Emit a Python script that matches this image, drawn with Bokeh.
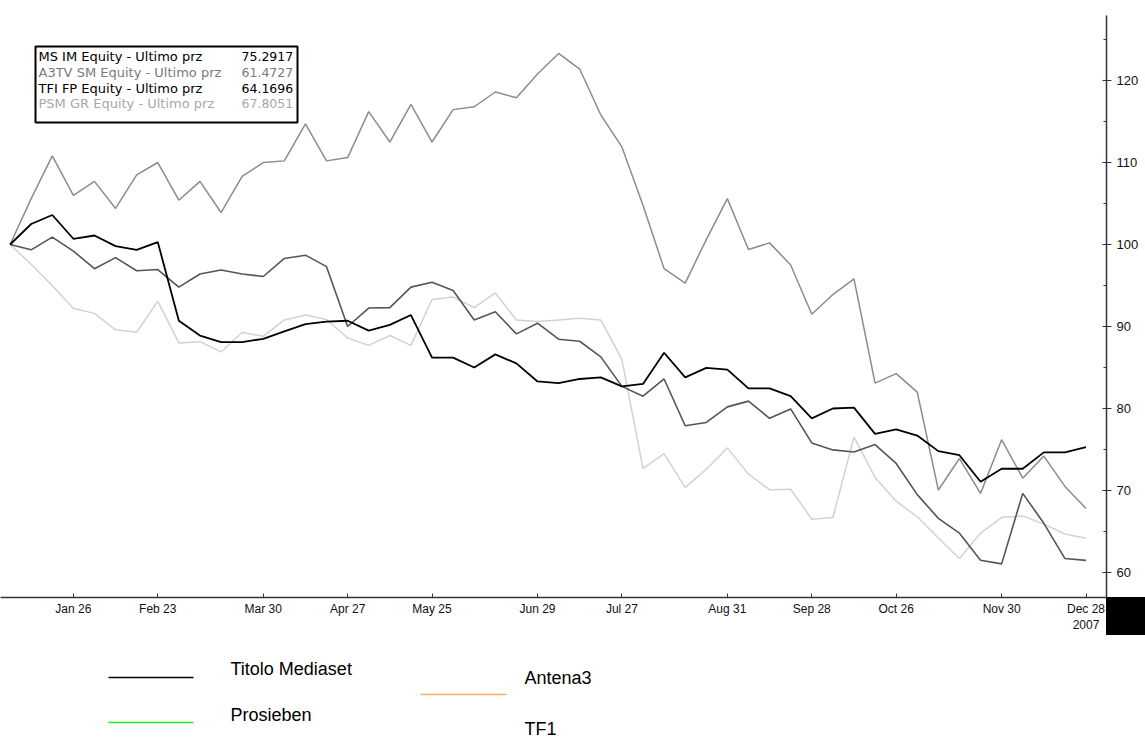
import pandas as pd
from bokeh.plotting import figure
from bokeh.layouts import column
from bokeh.models import Range1d, FixedTicker, BoxAnnotation, Label, InlineStyleSheet
from bokeh.core.properties import value
from bokeh.embed import file_html
from bokeh.resources import INLINE

# ---------------- data (weekly closes, rebased to 100) ----------------
dates = pd.date_range("2007-01-05", periods=52, freq="7D")

mediaset = [100, 102.5, 103.6, 100.7, 101.1, 99.8, 99.35, 100.3, 90.7, 88.9,
            88.1, 88.1, 88.5, 89.4, 90.3, 90.6, 90.7, 89.5, 90.2, 91.4,
            86.2, 86.2, 85.0, 86.6, 85.5, 83.3, 83.1, 83.6, 83.8, 82.7,
            83.0, 86.8, 83.8, 84.95, 84.75, 82.45, 82.45, 81.5, 78.8, 80.0,
            80.1, 76.9, 77.45, 76.7, 74.8, 74.3, 71.06, 72.65, 72.65, 74.65,
            74.65, 75.2917]

prosieben = [100, 105.6, 110.8, 106.0, 107.7, 104.4, 108.5, 110.0, 105.4, 107.7,
             103.9, 108.3, 110.0, 110.2, 114.7, 110.2, 110.6, 116.2, 112.5, 117.1,
             112.5, 116.45, 116.8, 118.6, 117.9, 120.8, 123.3, 121.4, 115.8, 111.9,
             104.8, 97.05, 95.3, 100.6, 105.6, 99.4, 100.2, 97.5, 91.5, 93.9,
             95.8, 83.1, 84.25, 82.0, 70.06, 73.9, 69.65, 76.2, 71.5, 74.2,
             70.5, 67.8051]

antena3 = [100, 99.35, 100.9, 99.2, 97.05, 98.4, 96.8, 96.95, 94.8, 96.4,
           96.9, 96.4, 96.1, 98.3, 98.7, 97.3, 90.0, 92.25, 92.3, 94.8,
           95.4, 94.4, 90.8, 91.8, 89.1, 90.4, 88.45, 88.2, 86.3, 82.7,
           81.5, 83.6, 77.9, 78.3, 80.2, 80.9, 78.8, 79.95, 75.8, 74.95,
           74.7, 75.6, 73.3, 69.5, 66.6, 64.8, 61.5, 61.05, 69.65, 66.0,
           61.7, 61.4727]

tf1 = [100, 97.6, 95.0, 92.2, 91.6, 89.6, 89.3, 93.1, 88.0, 88.15,
       86.9, 89.3, 88.8, 90.8, 91.4, 90.85, 88.6, 87.7, 88.9, 87.7,
       93.3, 93.6, 92.3, 94.1, 90.8, 90.6, 90.8, 91.0, 90.8, 86.0,
       72.7, 74.5, 70.35, 72.6, 75.2, 72.0, 70.1, 70.15, 66.5, 66.7,
       76.5, 71.6, 68.7, 66.8, 64.2, 61.7, 64.8, 66.7, 66.9, 65.9,
       64.7, 64.1696]

tick_dates = ["2007-01-26", "2007-02-23", "2007-03-30", "2007-04-27", "2007-05-25",
              "2007-06-29", "2007-07-27", "2007-08-31", "2007-09-28", "2007-10-26",
              "2007-11-30", "2007-12-28"]
tick_labels = ["Jan 26", "Feb 23", "Mar 30", "Apr 27", "May 25", "Jun 29",
               "Jul 27", "Aug 31", "Sep 28", "Oct 26", "Nov 30", "Dec 28\n2007"]
y_ticks = [60, 70, 80, 90, 100, 110, 120]
y_minor = [55, 65, 75, 85, 95, 105, 115, 125]

box_names = ["MS IM Equity - Ultimo prz", "A3TV SM Equity - Ultimo prz",
             "TFI FP Equity - Ultimo prz", "PSM GR Equity - Ultimo prz"]
box_values = ["75.2917", "61.4727", "64.1696", "67.8051"]
box_colors = ["#000000", "#7a7a7a", "#000000", "#a8a8a8"]

legend_names = ["Titolo Mediaset", "Prosieben", "Antena3", "TF1"]

# ---------------- main chart ----------------
FONT = "Liberation Sans"
BOX_FONT = "DejaVu Sans"

corner_css = InlineStyleSheet(css="""
:host { position: relative; }
:host::after { content: ''; position: absolute; left: 1106px; top: 597px;
               width: 39px; height: 38px; background: #000000; z-index: 10;
               pointer-events: none; }
""")

p = figure(width=1145, height=640, x_axis_type="datetime", y_axis_location="right",
           x_range=Range1d(pd.Timestamp("2007-01-01 19:40"), pd.Timestamp("2008-01-03 19:00")),
           y_range=Range1d(56.95, 127.93),
           toolbar_location=None, output_backend="svg",
           min_border_left=0, min_border_right=39, min_border_top=15, min_border_bottom=43,
           stylesheets=[corner_css])
p.grid.visible = False
p.outline_line_color = None
p.background_fill_color = "white"
p.border_fill_color = "white"

p.line(dates, tf1, line_color="#d2d2d2", line_width=1.5)
p.line(dates, prosieben, line_color="#8c8c8c", line_width=1.5)
p.line(dates, antena3, line_color="#555555", line_width=1.6)
p.line(dates, mediaset, line_color="#000000", line_width=1.8)

tick_ms = [pd.Timestamp(d).value // 10**6 for d in tick_dates]
xa = p.xaxis[0]
xa.ticker = FixedTicker(ticks=tick_ms)
xa.major_label_overrides = {float(t): lab for t, lab in zip(tick_ms, tick_labels)}
xa.axis_line_color = "#333333"
xa.axis_line_width = 1.5
xa.major_tick_in = 4
xa.major_tick_out = 0
xa.major_tick_line_color = "#333333"
xa.minor_tick_line_color = None
xa.major_label_text_font = FONT
xa.major_label_text_font_size = "12px"
xa.major_label_text_color = "#111111"
xa.major_label_standoff = 4

ya = p.yaxis[0]
ya.ticker = FixedTicker(ticks=y_ticks, minor_ticks=y_minor)
ya.axis_line_color = "#333333"
ya.axis_line_width = 1.5
ya.major_tick_in = 4
ya.major_tick_out = 5
ya.minor_tick_in = 3
ya.minor_tick_out = 0
ya.major_tick_line_color = "#333333"
ya.minor_tick_line_color = "#333333"
ya.major_label_text_font = FONT
ya.major_label_text_font_size = "13px"
ya.major_label_text_color = "#111111"
ya.major_label_standoff = 5

# in-chart box with last prices
p.add_layout(BoxAnnotation(left=35, right=297, top=46, bottom=122,
                           left_units="canvas", right_units="canvas",
                           top_units="canvas", bottom_units="canvas",
                           fill_color="white", fill_alpha=1.0,
                           line_color="black", line_alpha=1.0, line_width=2))
row_y = [541, 525, 509, 494]
for name, val, col, yy in zip(box_names, box_values, box_colors, row_y):
    p.add_layout(Label(x=38, y=yy, x_units="screen", y_units="screen", text=name,
                       text_font=BOX_FONT, text_font_size="13px", text_color=col,
                       text_baseline="middle"))
    p.add_layout(Label(x=241, y=yy, x_units="screen", y_units="screen", text=val,
                       text_font=BOX_FONT, text_font_size="12.5px", text_color=col,
                       text_baseline="middle"))

# ---------------- legend strip below ----------------
# (frame of this strip is aligned with the main frame: 1106 px wide)
q = figure(width=1145, height=100, x_range=Range1d(0, 1106), y_range=Range1d(740, 640),
           toolbar_location=None, output_backend="svg",
           min_border_left=0, min_border_right=0, min_border_top=0, min_border_bottom=0)
q.axis.visible = False
q.grid.visible = False
q.outline_line_color = None

q.segment(x0=[108, 108, 420], y0=[677, 722, 694], x1=[193, 193, 506], y1=[677, 722, 694],
          line_color=["#000000", "#22ee22", "#f5ad62"], line_width=1.6)
q.text(x=[230, 230, 524, 524], y=[668, 714, 677, 728], text=legend_names,
       text_font=value(FONT), text_font_size="18px", text_color="#000000",
       text_baseline="middle")

layout = column(p, q, spacing=0)
open("out.html", "w").write(file_html(layout, INLINE))
